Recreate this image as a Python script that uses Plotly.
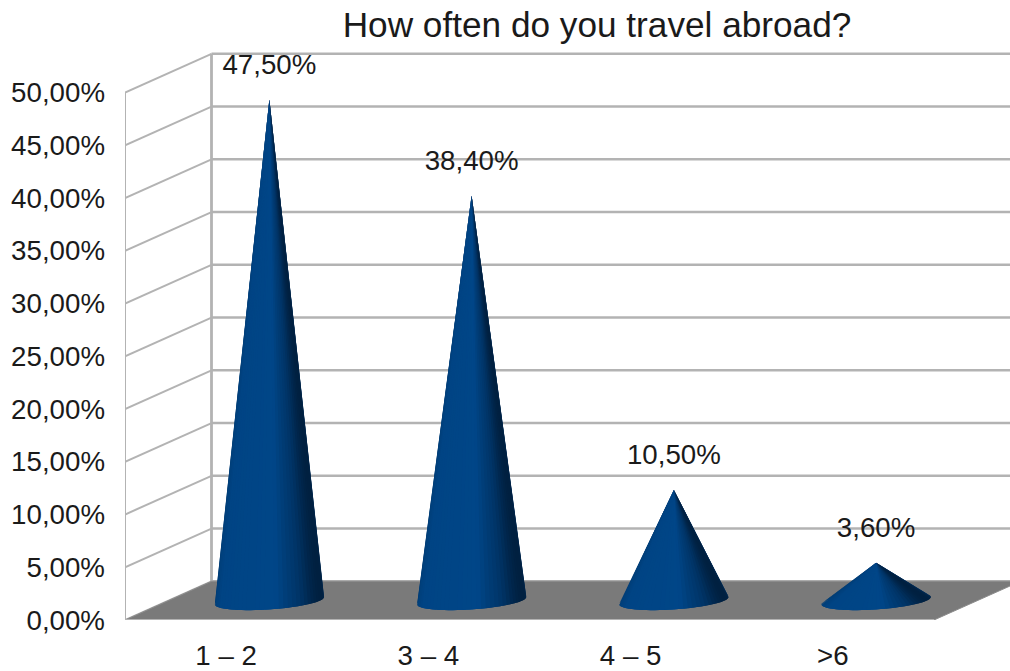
import math
import plotly.graph_objects as go

categories = ["1 – 2", "3 – 4", "4 – 5", ">6"]
values = [47.5, 38.4, 10.5, 3.6]
value_labels = ["47,50%", "38,40%", "10,50%", "3,60%"]
y_ticks = [0, 5, 10, 15, 20, 25, 30, 35, 40, 45, 50]
y_tick_labels = ["0,00%", "5,00%", "10,00%", "15,00%", "20,00%", "25,00%",
                 "30,00%", "35,00%", "40,00%", "45,00%", "50,00%"]
title_text = "How often do you travel abroad?"

W, H = 1010, 671
L, R, T, B = 125, 0, 40, 51
PX_X = 202.25            # px per category
PX_Y = 10.55             # px per percent
X0 = -0.5
X1 = X0 + (W - L - R) / PX_X
Y1 = (H - T - B) / PX_Y
DX = 86.5 / PX_X         # depth offset of back wall
DY = 38.7 / PX_Y
GRID = "#b3b3b3"
TXT = "#1a1a1a"
FONT = "Liberation Sans"

fig = go.Figure()


def line(xs, ys, width=2.0, color=GRID):
    fig.add_trace(go.Scatter(x=xs, y=ys, mode="lines", cliponaxis=False, hoverinfo="skip",
                             line=dict(color=color, width=width), showlegend=False))


# grid
for v in y_ticks:
    line([X0, X0 + DX], [v, v + DY], 2.0)
    line([X0 + DX, X1], [v + DY, v + DY], 2.6)
line([X0, X0], [0, 50], 2.0)
line([X0 + DX, X0 + DX], [DY, 50 + DY], 2.8)

# floor
fig.add_trace(go.Scatter(
    x=[X0, 3.5, 3.5 + DX, X0 + DX, X0], y=[0, 0, DY, DY, 0], mode="lines", fill="toself",
    fillcolor="#7a7a7a", line=dict(color="#8c8c8c", width=1), hoverinfo="skip", showlegend=False))
line([X0, 3.5], [0, 0], 2.0)


def shade(s):
    stops = [(-1.0, (0, 60, 115)), (-0.6, (0, 68, 132)), (0.45, (0, 70, 136)),
             (0.82, (0, 52, 102)), (1.0, (0, 32, 64))]
    for (a, ca), (b, cb) in zip(stops, stops[1:]):
        if s <= b:
            f = (s - a) / (b - a)
            c = [round(p + (q - p) * f) for p, q in zip(ca, cb)]
            return f"rgb({c[0]},{c[1]},{c[2]})"
    return "rgb(0,32,64)"


RU = 50.5 / PX_X
SHX = 21 / PX_X
SHY = 9.5 / PX_Y
N = 72
STEP = 2 * math.pi / N
for i, val in enumerate(values):
    cx, cy = i + DX / 2, DY / 2
    ax, ay = cx, val + DY / 2
    tris = []
    for k in range(N):
        tm = STEP * (k + 0.5)
        tris.append((math.sin(tm), tm - STEP, tm + STEP, tm))
    tris.sort(key=lambda a: -a[0])  # back first (sin t = +1 at the back)
    for v, t0, t1, tm in tris:
        px = lambda t: cx + RU * math.cos(t) + SHX * math.sin(t)
        py = lambda t: cy + SHY * math.sin(t)
        col = shade(math.cos(tm))
        fig.add_trace(go.Scatter(
            x=[ax, px(t0), px(tm), px(t1), ax], y=[ay, py(t0), py(tm), py(t1), ay],
            mode="lines", fill="toself",
            fillcolor=col, line=dict(color=col, width=0), hoverinfo="skip", showlegend=False))

# data labels
fig.add_trace(go.Scatter(
    x=[i + DX / 2 for i in range(4)],
    y=[v + DY / 2 + 32.5 / PX_Y for v in values],
    mode="text", text=value_labels, textposition="middle center", cliponaxis=False,
    textfont=dict(family=FONT, size=27.7, color=TXT), hoverinfo="skip", showlegend=False))

fig.update_layout(
    width=W, height=H, autosize=False, margin=dict(l=L, r=R, t=T, b=B, autoexpand=False),
    paper_bgcolor="white", plot_bgcolor="white", showlegend=False,
    title=dict(text=title_text, x=597 / W, xanchor="center", y=1 - 25 / H, yanchor="middle",
               automargin=False, font=dict(family=FONT, size=35.2, color=TXT)),
    xaxis=dict(range=[X0, X1], tickmode="array", tickvals=list(range(4)), ticktext=categories,
               showgrid=False, zeroline=False, showline=False, ticks="", ticklabelstandoff=16,
               automargin=False, tickfont=dict(family=FONT, size=27.7, color=TXT)),
    yaxis=dict(range=[0, Y1], tickmode="array", tickvals=y_ticks, ticktext=y_tick_labels,
               showgrid=False, zeroline=False, showline=False, ticks="", ticklabelstandoff=19,
               automargin=False, tickfont=dict(family=FONT, size=27.7, color=TXT)),
)

fig.write_html("out.html", config={"displayModeBar": False},
               post_script="document.body.style.margin='0';document.body.style.overflow='hidden';")
